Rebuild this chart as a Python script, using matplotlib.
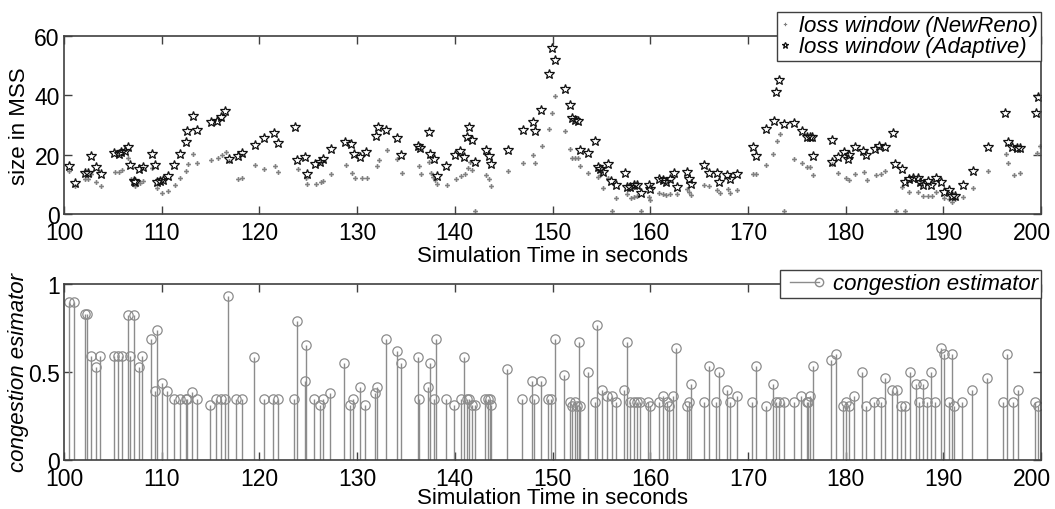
import numpy as np
import matplotlib
matplotlib.use("Agg")
import matplotlib.pyplot as plt
from matplotlib.lines import Line2D
from matplotlib.legend_handler import HandlerLine2D
from matplotlib.transforms import ScaledTranslation

plt.rcParams['font.family'] = ['Liberation Sans', 'DejaVu Sans']

# loss window, NewReno
t_newreno = [100.5, 101.1, 102.2, 102.5, 102.8, 103.3, 103.8, 105.2, 105.6, 105.9,
             106.6, 106.9, 107.3, 107.8, 108.1, 109.0, 109.5, 110.0, 110.6, 111.4,
             111.9, 112.5, 112.7, 113.2, 113.6, 115.0, 115.8, 116.2, 116.6, 116.9,
             117.8, 118.2, 119.5, 120.5, 121.6, 121.9, 123.9, 124.8, 124.9, 125.8,
             126.3, 126.5, 127.3, 128.9, 129.5, 129.8, 130.5, 131.0, 132.0, 132.2,
             133.1, 134.1, 134.6, 136.3, 136.5, 137.4, 137.6, 137.8, 138.0, 138.2,
             139.2, 140.1, 140.6, 141.0, 141.3, 141.6, 141.8, 142.1, 143.2, 143.5,
             143.7, 145.4, 147.0, 148.0, 148.2, 148.9, 149.6, 149.9, 150.3, 151.3,
             151.8, 152.0, 152.3, 152.6, 152.8, 153.6, 154.7, 154.9, 155.2, 155.7,
             156.1, 156.5, 157.6, 158.0, 158.3, 158.7, 159.1, 159.9, 160.0, 160.9,
             161.3, 161.6, 162.0, 162.7, 163.8, 164.0, 164.2, 165.5, 166.0, 166.8,
             167.1, 168.0, 168.2, 168.9, 170.5, 170.8, 171.9, 172.6, 173.0, 173.3,
             173.7, 174.7, 175.5, 176.0, 176.4, 176.7, 178.6, 179.2, 180.0, 180.3,
             181.0, 181.9, 182.2, 183.1, 183.6, 184.0, 185.2, 185.8, 186.1, 186.5,
             187.4, 187.9, 188.4, 188.8, 189.3, 190.1, 190.6, 190.9, 191.2, 192.0,
             193.0, 194.6, 196.4, 196.6, 197.2, 197.8, 199.6, 199.9]
w_newreno = [14.6, 9.5, 11.7, 11.7, 13.5, 10.7, 9.3, 14.2, 14.0, 14.8,
             19.0, 11.7, 9.3, 10.3, 11.1, 15.4, 8.8, 7.1, 7.8, 9.8,
             12.3, 14.6, 16.9, 20.1, 17.2, 18.3, 18.9, 19.8, 20.9, 17.7,
             11.7, 12.2, 16.6, 15.2, 16.3, 14.2, 15.2, 12.1, 10.0, 10.0,
             10.7, 11.2, 13.5, 16.6, 13.8, 12.2, 12.2, 12.2, 16.3, 18.3,
             21.7, 18.5, 13.8, 16.3, 13.4, 17.5, 13.8, 12.4, 11.4, 10.0,
             9.7, 11.7, 12.9, 13.4, 15.6, 17.6, 14.8, 1.0, 13.1, 11.8,
             9.5, 14.4, 17.1, 20.0, 17.1, 22.8, 28.5, 34.0, 39.7, 27.9,
             21.9, 19.0, 18.8, 18.8, 16.3, 13.8, 12.6, 13.1, 8.8, 12.0,
             1.0, 5.5, 6.7, 5.3, 5.8, 5.9, 1.0, 5.6, 4.7, 7.1,
             6.8, 6.4, 6.8, 6.8, 8.4, 7.3, 6.4, 9.8, 9.5, 8.1,
             7.0, 8.4, 7.0, 8.2, 13.6, 13.6, 16.6, 20.2, 24.5, 26.9,
             1.0, 18.5, 17.2, 15.7, 15.7, 13.2, 17.0, 13.7, 12.1, 11.5,
             13.5, 14.0, 11.3, 13.2, 13.5, 14.6, 1.0, 9.0, 1.0, 7.5,
             7.5, 6.2, 6.2, 6.2, 7.5, 5.3, 5.1, 3.9, 5.1, 5.8,
             8.9, 14.4, 20.2, 17.2, 13.2, 13.8, 20.5, 23.0]

# loss window, Adaptive
t_adaptive = [100.5, 101.1, 102.2, 102.5, 102.8, 103.3, 103.8, 105.1, 105.6, 105.8,
              106.2, 106.6, 106.8, 107.2, 107.3, 107.7, 108.1, 109.0, 109.3, 109.5,
              109.8, 110.1, 110.6, 111.3, 111.9, 112.5, 112.6, 113.2, 113.6, 115.0,
              115.7, 116.1, 116.5, 116.9, 117.8, 118.2, 119.5, 120.5, 121.5, 121.9,
              123.6, 123.8, 124.7, 124.9, 125.7, 126.2, 126.5, 127.3, 128.8, 129.4,
              129.7, 130.3, 130.9, 131.9, 132.1, 133.0, 134.1, 134.5, 136.2, 136.4,
              137.4, 137.5, 137.9, 138.2, 139.1, 140.0, 140.5, 140.9, 141.2, 141.5,
              141.8, 142.1, 143.2, 143.5, 143.7, 145.4, 147.0, 148.0, 148.2, 148.8,
              149.6, 149.9, 150.3, 151.3, 151.8, 152.0, 152.3, 152.6, 152.8, 153.6,
              154.4, 154.7, 154.9, 155.2, 155.7, 156.0, 156.5, 157.4, 157.6, 157.9,
              158.3, 158.7, 159.1, 159.9, 160.0, 160.9, 161.3, 161.6, 162.0, 162.4,
              162.7, 163.8, 164.0, 164.2, 165.5, 166.0, 166.8, 167.0, 167.9, 168.2,
              168.9, 170.5, 170.8, 171.9, 172.7, 172.9, 173.2, 173.7, 174.7, 175.5,
              176.0, 176.4, 176.6, 176.7, 178.6, 178.6, 179.2, 179.8, 180.2, 180.3,
              181.0, 181.8, 182.1, 183.0, 183.4, 184.0, 184.9, 185.1, 185.8, 186.1,
              186.5, 186.9, 187.4, 187.6, 187.9, 188.4, 188.7, 189.3, 189.8, 190.1,
              190.6, 190.9, 191.2, 192.0, 193.0, 194.6, 196.3, 196.6, 197.0, 197.5,
              197.8, 199.5, 199.7]
w_adaptive = [16.3, 10.4, 13.8, 13.8, 19.4, 16.0, 13.6, 20.5, 20.1, 20.8,
              21.3, 22.6, 16.5, 11.0, 10.7, 15.2, 15.7, 20.2, 16.6, 10.9,
              11.2, 11.5, 12.9, 16.4, 20.1, 24.3, 28.1, 33.0, 28.3, 31.1,
              31.4, 32.6, 34.7, 18.7, 19.6, 20.5, 23.3, 25.5, 27.2, 23.9,
              29.2, 18.3, 19.1, 13.5, 16.7, 17.5, 18.4, 21.9, 24.2, 23.5,
              20.2, 19.3, 20.8, 26.3, 29.2, 28.3, 25.7, 19.9, 23.0, 22.3,
              27.7, 20.2, 18.6, 12.9, 16.3, 20.0, 21.3, 19.1, 26.0, 29.2,
              25.1, 17.6, 21.7, 19.6, 16.7, 21.7, 28.3, 30.9, 27.9, 35.1,
              47.1, 56.1, 52.0, 42.3, 36.7, 32.3, 31.8, 31.3, 21.7, 20.5,
              24.5, 15.7, 15.2, 14.0, 16.8, 11.0, 9.9, 13.7, 9.0, 9.2,
              9.9, 9.9, 7.1, 9.9, 8.4, 11.8, 11.4, 10.9, 11.8, 13.8,
              9.1, 14.2, 11.8, 10.0, 16.6, 13.8, 13.7, 10.9, 13.1, 11.8,
              13.6, 22.7, 19.6, 28.6, 31.4, 41.0, 45.1, 30.3, 30.6, 27.9,
              26.0, 25.8, 26.0, 19.6, 25.1, 17.6, 19.3, 20.9, 18.6, 20.0,
              22.5, 21.2, 19.9, 21.9, 23.0, 22.5, 27.2, 16.8, 15.2, 10.9,
              11.8, 12.0, 12.0, 10.9, 9.8, 11.2, 9.8, 12.0, 10.9, 7.3,
              8.1, 6.2, 6.0, 9.9, 14.4, 22.5, 33.9, 24.3, 22.5, 22.2,
              22.2, 33.9, 39.3]

# congestion estimator
t_ce = [100.5, 101.0, 102.1, 102.4, 102.8, 103.3, 103.7, 105.1, 105.5, 105.9,
        106.5, 106.8, 107.2, 107.7, 108.0, 108.9, 109.3, 109.5, 110.0, 110.5,
        111.3, 111.9, 112.5, 112.6, 113.1, 113.6, 114.9, 115.6, 116.1, 116.5,
        116.8, 117.6, 118.2, 119.4, 120.5, 121.4, 121.9, 123.5, 123.8, 124.7,
        124.8, 125.6, 126.2, 126.5, 127.2, 128.7, 129.3, 129.6, 130.3, 130.8,
        131.8, 132.0, 133.0, 134.1, 134.5, 136.2, 136.3, 137.3, 137.5, 137.9,
        138.1, 139.1, 139.9, 140.6, 140.9, 141.2, 141.5, 141.8, 142.1, 143.1,
        143.4, 143.6, 143.7, 145.3, 146.9, 147.9, 148.1, 148.8, 149.5, 149.8,
        150.3, 151.2, 151.8, 152.0, 152.3, 152.5, 152.7, 152.8, 153.6, 154.3,
        154.6, 155.1, 155.6, 156.1, 156.5, 157.3, 157.6, 157.9, 158.3, 158.6,
        159.0, 159.8, 160.0, 160.9, 161.3, 161.7, 161.9, 162.3, 162.6, 163.8,
        164.0, 164.2, 165.5, 166.0, 166.7, 167.0, 167.9, 168.2, 168.9, 170.4,
        170.8, 171.9, 172.6, 172.9, 173.2, 173.7, 174.7, 175.4, 176.0, 176.2,
        176.4, 176.7, 178.5, 179.0, 179.7, 180.0, 180.3, 180.9, 181.7, 182.1,
        182.9, 183.6, 184.0, 184.7, 185.3, 185.7, 186.1, 186.6, 187.2, 187.5,
        187.9, 188.3, 188.7, 189.2, 189.8, 190.1, 190.6, 190.9, 191.1, 191.9,
        192.9, 194.5, 196.1, 196.5, 197.1, 197.6, 199.4, 199.7]
ce = [0.90, 0.90, 0.83, 0.83, 0.59, 0.53, 0.59, 0.59, 0.59, 0.59,
      0.826, 0.59, 0.826, 0.53, 0.59, 0.69, 0.39, 0.74, 0.436, 0.39,
      0.347, 0.347, 0.347, 0.347, 0.385, 0.347, 0.31, 0.347, 0.347, 0.347,
      0.93, 0.347, 0.347, 0.587, 0.347, 0.347, 0.347, 0.347, 0.79, 0.45,
      0.655, 0.347, 0.31, 0.347, 0.38, 0.551, 0.31, 0.347, 0.415, 0.31,
      0.38, 0.415, 0.69, 0.62, 0.551, 0.585, 0.347, 0.415, 0.551, 0.347,
      0.69, 0.347, 0.31, 0.347, 0.585, 0.347, 0.347, 0.31, 0.31, 0.347,
      0.347, 0.347, 0.31, 0.517, 0.347, 0.45, 0.347, 0.45, 0.347, 0.347,
      0.69, 0.483, 0.33, 0.305, 0.33, 0.305, 0.668, 0.305, 0.498, 0.33,
      0.767, 0.40, 0.365, 0.365, 0.33, 0.40, 0.668, 0.33, 0.33, 0.33,
      0.33, 0.33, 0.305, 0.33, 0.365, 0.33, 0.305, 0.365, 0.635, 0.305,
      0.33, 0.432, 0.33, 0.532, 0.33, 0.498, 0.40, 0.33, 0.365, 0.33,
      0.532, 0.305, 0.432, 0.33, 0.33, 0.33, 0.33, 0.365, 0.33, 0.33,
      0.365, 0.532, 0.568, 0.60, 0.305, 0.33, 0.305, 0.365, 0.498, 0.305,
      0.33, 0.33, 0.468, 0.40, 0.40, 0.305, 0.305, 0.498, 0.432, 0.33,
      0.432, 0.33, 0.498, 0.33, 0.635, 0.60, 0.33, 0.60, 0.305, 0.33,
      0.40, 0.468, 0.33, 0.60, 0.33, 0.40, 0.33, 0.305]

FS = 16.5
axis_col = '#404040'
stem_col = '#8c8c8c'


class EndMarkerHandler(HandlerLine2D):
    # legend line with the circle only at its right end (MATLAB stem look)
    def create_artists(self, *args, **kwargs):
        arts = super().create_artists(*args, **kwargs)
        for a in arts:
            n = len(a.get_xdata())
            a.set_markevery([n - 1])
        return arts


fig = plt.figure(figsize=(10.55, 5.10), dpi=100)
ax1 = fig.add_axes([64 / 1055, 1 - 215 / 510, 977 / 1055, 178 / 510])
ax2 = fig.add_axes([64 / 1055, 1 - 461 / 510, 977 / 1055, 176 / 510])

ax1.plot(t_newreno, w_newreno, linestyle='none', marker='P', markersize=3.5,
         color='#808080', markeredgewidth=0, label='loss window (NewReno)')
ax1.plot(t_adaptive, w_adaptive, linestyle='none', marker='*', markersize=7,
         markerfacecolor='none', markeredgecolor='#111111', markeredgewidth=0.9,
         label='loss window (Adaptive)')
ax1.set_xlim(100, 200)
ax1.set_ylim(0, 60)
ax1.set_yticks([0, 20, 40, 60])
ax1.set_ylabel('size in MSS', fontsize=16, labelpad=3)
ax1.set_xlabel('Simulation Time in seconds', fontsize=16, labelpad=1)
leg1 = ax1.legend(loc='upper right', bbox_to_anchor=(1041 / 1055, 1 - 13 / 510),
                  bbox_transform=fig.transFigure, borderaxespad=0,
                  fancybox=False, framealpha=1, edgecolor=axis_col,
                  prop={'size': 16, 'style': 'italic'}, handlelength=0.5,
                  handletextpad=0.35, borderpad=0.15, labelspacing=0.0,
                  markerscale=0.7)
leg1.get_frame().set_linewidth(1.0)

markerline, stemlines, baseline = ax2.stem(t_ce, ce, linefmt='-', markerfmt='o',
                                           basefmt=' ')
plt.setp(stemlines, color=stem_col, linewidth=1.0)
plt.setp(markerline, markerfacecolor='none', markeredgecolor=stem_col,
         markersize=6.7, markeredgewidth=0.9)
ax2.set_xlim(100, 200)
ax2.set_ylim(0, 1)
ax2.set_yticks([0, 0.5, 1])
ax2.set_yticklabels(['0', '0.5', '1'])
ax2.set_ylabel('congestion esimator', fontsize=16, style='italic', labelpad=-1)
ax2.set_xlabel('Simulation Time in seconds', fontsize=16, labelpad=-2)
ce_handle = Line2D([], [], color=stem_col, linewidth=1.0, marker='o', markersize=6,
                   markerfacecolor='none', markeredgecolor=stem_col)
leg2 = ax2.legend([ce_handle], ['congestion estimator'], loc='upper right',
                  bbox_to_anchor=(1041 / 1055, 1 - 271 / 510),
                  bbox_transform=fig.transFigure, borderaxespad=0,
                  fancybox=False, framealpha=1, edgecolor=axis_col,
                  prop={'size': 16, 'style': 'italic'}, handlelength=1.9,
                  handletextpad=0.3, borderpad=0.15,
                  handler_map={ce_handle: EndMarkerHandler(numpoints=2)})
leg2.get_frame().set_linewidth(1.0)

for ax in (ax1, ax2):
    ax.set_xticks(np.arange(100, 201, 10))
    ax.tick_params(direction='in', top=True, right=True, length=6, width=1,
                   color=axis_col, labelsize=FS)
    ax.tick_params(axis='x', pad=5)
    ax.tick_params(axis='y', pad=3)
    for s in ax.spines.values():
        s.set_color(axis_col)
        s.set_linewidth(1.2)
    # last x tick label pulled inside the figure edge
    lab = ax.xaxis.get_major_ticks()[-1].label1
    lab.set_transform(lab.get_transform() +
                      ScaledTranslation(-0.09, 0, fig.dpi_scale_trans))

fig.savefig('out.png', dpi=100)
